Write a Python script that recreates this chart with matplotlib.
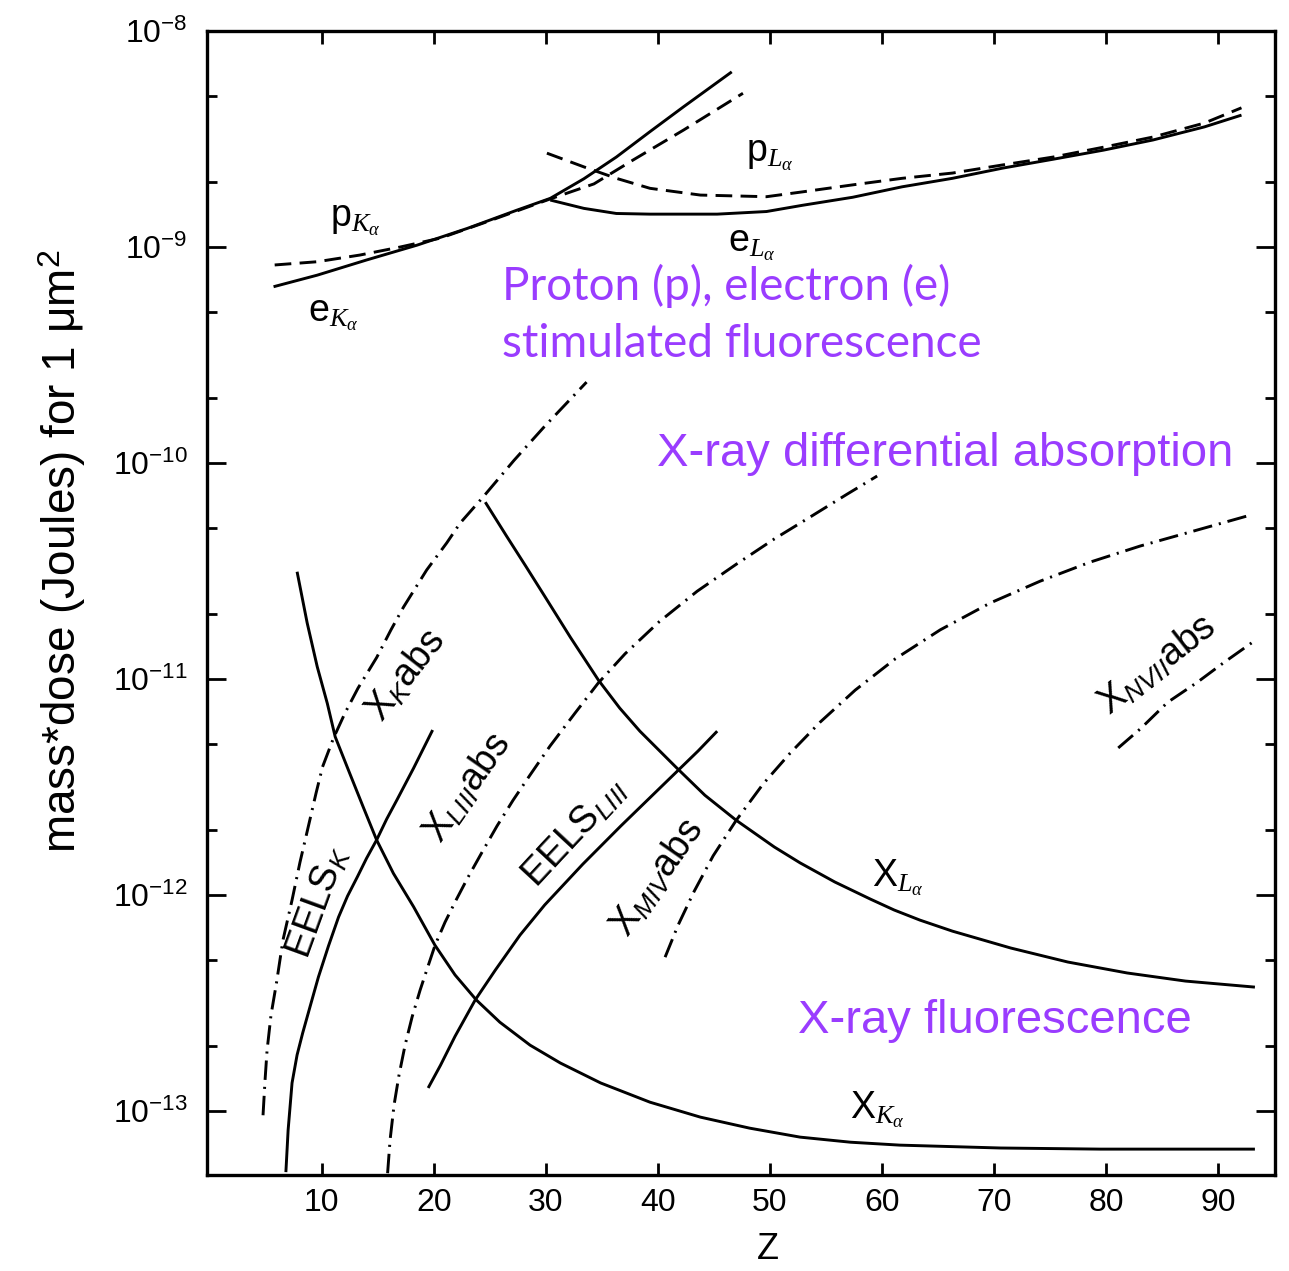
import matplotlib
matplotlib.use('Agg')
import matplotlib.pyplot as plt
from matplotlib.ticker import NullFormatter, FixedLocator

plt.rcParams['font.family'] = ['Liberation Sans', 'DejaVu Sans']
plt.rcParams['mathtext.fontset'] = 'custom'
plt.rcParams['mathtext.rm'] = 'Liberation Sans'
plt.rcParams['mathtext.it'] = 'Liberation Serif:italic'
plt.rcParams['mathtext.sf'] = 'Liberation Sans:italic'
plt.rcParams['lines.scale_dashes'] = False

# mass*dose (J) needed for 1 um^2 vs atomic number Z

# proton / electron stimulated fluorescence
z_e_ka = [5.7, 9.6, 14.0, 18.5, 23.0, 27.4, 30.4, 33.4, 36.3, 39.3, 42.3, 46.6]
d_e_ka = [6.55e-10, 7.41e-10, 8.71e-10, 1.02e-9, 1.22e-9, 1.48e-9, 1.68e-9, 2.07e-9,
          2.61e-9, 3.42e-9, 4.46e-9, 6.47e-9]
z_p_ka = [5.8, 9.6, 13.4, 17.0, 20.6, 24.4, 30.4, 34.3, 37.8, 42.3, 47.6]
d_p_ka = [8.26e-10, 8.55e-10, 9.18e-10, 1.0e-9, 1.10e-9, 1.29e-9, 1.67e-9, 1.96e-9,
          2.53e-9, 3.48e-9, 5.15e-9]
z_e_la = [30.4, 33.4, 36.3, 39.3, 45.3, 49.7, 52.9, 57.4, 61.8, 66.3, 70.8, 75.3, 79.8,
          84.2, 88.8, 92.1]
d_e_la = [1.65e-9, 1.51e-9, 1.43e-9, 1.42e-9, 1.42e-9, 1.46e-9, 1.56e-9, 1.70e-9, 1.90e-9,
          2.08e-9, 2.32e-9, 2.55e-9, 2.81e-9, 3.13e-9, 3.60e-9, 4.08e-9]
z_p_la = [30.1, 33.4, 36.3, 39.3, 43.8, 49.7, 52.9, 57.4, 61.8, 66.3, 70.8, 75.3, 79.8,
          84.2, 88.8, 92.1]
d_p_la = [2.72e-9, 2.35e-9, 2.08e-9, 1.87e-9, 1.74e-9, 1.71e-9, 1.80e-9, 1.94e-9, 2.08e-9,
          2.20e-9, 2.40e-9, 2.61e-9, 2.90e-9, 3.23e-9, 3.75e-9, 4.41e-9]

# x-ray fluorescence
z_x_ka = [7.8, 8.7, 9.6, 10.5, 11.2, 12.5, 13.7, 14.9, 16.4, 18.2, 20.1, 21.9, 23.8, 25.9,
          28.6, 31.3, 34.9, 39.3, 43.8, 48.2, 52.7, 57.2, 61.6, 70.6, 79.5, 93.3]
d_x_ka = [3.14e-11, 1.82e-11, 1.14e-11, 7.71e-12, 5.41e-12, 3.66e-12, 2.56e-12, 1.80e-12,
          1.26e-12, 8.83e-13, 5.87e-13, 4.27e-13, 3.27e-13, 2.58e-13, 2.02e-13, 1.67e-13,
          1.35e-13, 1.10e-13, 9.38e-14, 8.34e-14, 7.58e-14, 7.18e-14, 6.96e-14, 6.75e-14,
          6.67e-14, 6.67e-14]
z_x_la = [24.6, 26.5, 28.2, 29.9, 32.2, 34.7, 36.6, 38.4, 41.6, 44.2, 47.0, 50.4, 52.7,
          55.8, 59.0, 61.1, 63.4, 66.3, 71.5, 76.6, 81.9, 87.1, 93.3]
d_x_la = [6.59e-11, 4.59e-11, 3.34e-11, 2.42e-11, 1.56e-11, 9.89e-12, 7.34e-12, 5.74e-12,
          3.92e-12, 2.90e-12, 2.22e-12, 1.67e-12, 1.41e-12, 1.15e-12, 9.57e-13, 8.53e-13,
          7.66e-13, 6.81e-13, 5.69e-13, 4.90e-13, 4.36e-13, 4.00e-13, 3.75e-13]

# EELS
z_eels_k = [6.8, 7.0, 7.35, 7.8, 8.3, 9.0, 9.7, 10.6, 11.5, 12.3, 13.2, 14.0, 14.9, 15.8,
            16.7, 18.2, 19.9]
d_eels_k = [5.22e-14, 8.17e-14, 1.35e-13, 1.82e-13, 2.30e-13, 3.10e-13, 4.17e-13, 5.81e-13,
            7.91e-13, 9.89e-13, 1.22e-12, 1.48e-12, 1.80e-12, 2.25e-12, 2.75e-12, 3.87e-12,
            5.81e-12]
z_eels_l3 = [19.5, 20.6, 21.9, 23.7, 25.5, 27.7, 29.9, 33.3, 36.7, 40.1, 43.6, 45.3]
d_eels_l3 = [1.28e-13, 1.63e-13, 2.22e-13, 3.27e-13, 4.50e-13, 6.53e-13, 9.0e-13, 1.39e-12,
             2.09e-12, 3.10e-12, 4.65e-12, 5.74e-12]

# x-ray differential absorption
z_x_kabs = [4.76, 4.94, 5.12, 5.47, 5.96, 6.54, 7.35, 8.06, 8.87, 9.49, 10.07, 11.05, 12.08,
            13.24, 14.91, 16.18, 17.29, 19.37, 21.16, 22.35, 24.4, 27.17, 29.85, 33.64]
d_x_kabs = [9.57e-14, 1.39e-13, 1.91e-13, 2.78e-13, 3.92e-13, 6.19e-13, 9.48e-13, 1.42e-12,
            2.15e-12, 2.96e-12, 3.92e-12, 5.33e-12, 6.97e-12, 9.08e-12, 1.26e-11, 1.69e-11,
            2.15e-11, 3.20e-11, 4.27e-11, 5.27e-11, 6.96e-11, 1.03e-10, 1.47e-10, 2.37e-10]
z_x_l3abs = [15.88, 16.1, 16.46, 16.9, 17.44, 18.06, 18.78, 19.49, 20.12, 21.01, 21.99, 23.06,
             24.31, 25.65, 27.08, 28.6, 30.38, 32.62, 34.67, 37.08, 40.11, 43.51, 47.0, 50.39,
             53.87, 56.9, 59.58]
d_x_l3abs = [5.16e-14, 7.35e-14, 1.07e-13, 1.47e-13, 2.02e-13, 2.72e-13, 3.63e-13, 4.69e-13,
             5.87e-13, 7.50e-13, 9.48e-13, 1.21e-12, 1.58e-12, 2.09e-12, 2.75e-12, 3.60e-12,
             4.90e-12, 6.97e-12, 9.57e-12, 1.31e-11, 1.84e-11, 2.55e-11, 3.40e-11, 4.45e-11,
             5.74e-11, 7.18e-11, 8.71e-11]
z_x_m4abs = [40.65, 41.81, 43.24, 44.94, 47.0, 49.4, 51.81, 54.49, 57.62, 61.19, 65.21, 69.67,
             74.13, 78.6, 83.06, 87.8, 92.62]
d_x_m4abs = [5.16e-13, 7.26e-13, 1.04e-12, 1.52e-12, 2.22e-12, 3.27e-12, 4.54e-12, 6.32e-12,
             8.89e-12, 1.24e-11, 1.69e-11, 2.25e-11, 2.84e-11, 3.48e-11, 4.13e-11, 4.84e-11,
             5.69e-11]
z_x_n7abs = [81.1, 83.1, 85.5, 88.2, 90.5, 93.0]
d_x_n7abs = [4.8e-12, 5.9e-12, 7.8e-12, 9.7e-12, 1.19e-11, 1.47e-11]

z_ticks = [10, 20, 30, 40, 50, 60, 70, 80, 90]
dose_ticks = [1e-13, 1e-12, 1e-11, 1e-10, 1e-9, 1e-8]
dose_minor = [m * 10.0 ** e for e in range(-14, -8) for m in (2, 5)]

purple = '#9a3cff'
solid = '-'
dashed = (0, (12, 6))
dashdot = (0, (14, 5, 1.5, 5))

fig = plt.figure(figsize=(12.89, 12.71), dpi=100)
ax = fig.add_axes([0.1606, 0.0755, 0.8286, 0.9001])

curves = [
    (z_e_ka, d_e_ka, solid), (z_p_ka, d_p_ka, dashed),
    (z_e_la, d_e_la, solid), (z_p_la, d_p_la, dashed),
    (z_x_ka, d_x_ka, solid), (z_x_la, d_x_la, solid),
    (z_eels_k, d_eels_k, solid), (z_eels_l3, d_eels_l3, solid),
    (z_x_kabs, d_x_kabs, dashdot), (z_x_l3abs, d_x_l3abs, dashdot),
    (z_x_m4abs, d_x_m4abs, dashdot), (z_x_n7abs, d_x_n7abs, dashdot),
]
for z, d, ls in curves:
    ax.plot(z, d, color='black', lw=2.1, linestyle=ls, solid_capstyle='butt',
            solid_joinstyle='round')

ax.set_yscale('log')
ax.set_xlim(-0.24, 95.1)
ax.set_ylim(5.06e-14, 1e-8)

ax.xaxis.set_major_locator(FixedLocator(z_ticks))
ax.yaxis.set_major_locator(FixedLocator(dose_ticks))
ax.yaxis.set_minor_locator(FixedLocator([v for v in dose_minor if 5.06e-14 < v < 1e-8]))
ax.yaxis.set_minor_formatter(NullFormatter())

ax.tick_params(which='both', direction='in', top=True, right=True, width=2, labelsize=23)
ax.tick_params(axis='y', which='major', length=14, pad=14)
ax.tick_params(axis='y', which='minor', length=7)
ax.tick_params(axis='x', which='major', length=9, pad=9)
for sp in ax.spines.values():
    sp.set_linewidth(2.4)

ax.set_xlabel('Z', fontsize=26)
ax.xaxis.set_label_coords(0.525, -0.05)
ax.set_ylabel('mass*dose (Joules) for 1 μm$^2$', fontsize=33)
ax.yaxis.set_label_coords(-0.111, 0.545)

# curve labels
lab = dict(fontsize=27, ha='center', va='center', rotation_mode='anchor')
ax.text(13.0, 1.33e-9, r'p$_{K_\alpha}$', **lab)
ax.text(11.0, 4.84e-10, r'e$_{K_\alpha}$', **lab)
ax.text(50.0, 2.67e-9, r'p$_{L_\alpha}$', **lab)
ax.text(48.4, 1.02e-9, r'e$_{L_\alpha}$', **lab)
ax.text(61.4, 1.2e-12, r'X$_{L_\alpha}$', **lab)
ax.text(59.6, 1.01e-13, r'X$_{K_\alpha}$', **lab)
ax.text(17.5, 1.04e-11, r'X$_{\mathsf{K}}$abs', rotation=52, **lab)
ax.text(23.0, 3.13e-12, r'X$_{\mathsf{LIII}}$abs', rotation=55, **lab)
ax.text(32.6, 1.94e-12, r'EELS$_{\mathsf{LIII}}$', rotation=47, **lab)
ax.text(40.0, 1.2e-12, r'X$_{\mathsf{MIV}}$abs', rotation=55, **lab)
ax.text(9.67, 9.3e-13, r'EELS$_{\mathsf{K}}$', rotation=70, **lab)
ax.text(84.6, 1.16e-11, r'X$_{\mathsf{NVII}}$abs', rotation=38, **lab)

# technique groups
fig.text(502 / 1289, 1 - 300 / 1271, 'Proton (p), electron (e)', color=purple,
         fontsize=33, family=['Lato', 'DejaVu Sans'], va='baseline')
fig.text(502 / 1289, 1 - 357 / 1271, 'stimulated fluorescence', color=purple,
         fontsize=33, family=['Lato', 'DejaVu Sans'], va='baseline')
fig.text(657 / 1289, 1 - 466 / 1271, 'X-ray differential absorption', color=purple,
         fontsize=34, va='baseline')
fig.text(798 / 1289, 1 - 1033 / 1271, 'X-ray fluorescence', color=purple,
         fontsize=34, va='baseline')

fig.savefig('out.png', dpi=100)
